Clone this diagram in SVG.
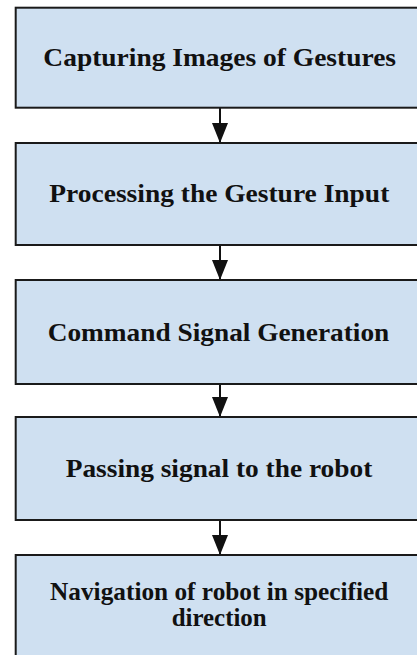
<svg xmlns="http://www.w3.org/2000/svg" width="417" height="655" viewBox="0 0 417 655">
<style>
.box{fill:#cfe0f1;stroke:#1a1a1a;stroke-width:2}
.lbl{font-family:"Liberation Serif","Times New Roman",serif;font-weight:bold;font-size:25px;fill:#111;text-anchor:middle}
.conn{stroke:#111;stroke-width:2;fill:none}
</style>
<defs>
<marker id="ah" markerUnits="userSpaceOnUse" markerWidth="20" markerHeight="16" viewBox="0 0 20 16" refX="20" refY="8" orient="auto">
<path d="M0,0 L20,8 L0,16 z" fill="#111"/>
</marker>
</defs>
<rect width="417" height="655" fill="#fff"/>
<g id="connectors">
<line class="conn" x1="220" y1="108" x2="220" y2="143" marker-end="url(#ah)"/>
<line class="conn" x1="220" y1="245" x2="220" y2="280" marker-end="url(#ah)"/>
<line class="conn" x1="220" y1="384" x2="220" y2="417" marker-end="url(#ah)"/>
<line class="conn" x1="220" y1="520" x2="220" y2="555" marker-end="url(#ah)"/>
</g>
<g id="n1">
<rect class="box" x="15.7" y="7.7" width="420" height="100"/>
<text class="lbl" x="219.7" y="66" textLength="352.7" lengthAdjust="spacingAndGlyphs">Capturing Images of Gestures</text>
</g>
<g id="n2">
<rect class="box" x="15.7" y="143" width="420" height="102"/>
<text class="lbl" x="219.3" y="201.7" textLength="340" lengthAdjust="spacingAndGlyphs">Processing the Gesture Input</text>
</g>
<g id="n3">
<rect class="box" x="15.7" y="280" width="420" height="104"/>
<text class="lbl" x="218.5" y="341" textLength="341.6" lengthAdjust="spacingAndGlyphs">Command Signal Generation</text>
</g>
<g id="n4">
<rect class="box" x="15.7" y="417" width="420" height="103"/>
<text class="lbl" x="219" y="476.7" textLength="306.6" lengthAdjust="spacingAndGlyphs">Passing signal to the robot</text>
</g>
<g id="n5">
<rect class="box" x="15.7" y="555" width="420" height="120"/>
<text class="lbl" x="219.2" y="600" textLength="338.3" lengthAdjust="spacingAndGlyphs">Navigation of robot in specified</text>
<text class="lbl" x="219.2" y="626" textLength="95" lengthAdjust="spacingAndGlyphs">direction</text>
</g>
</svg>
